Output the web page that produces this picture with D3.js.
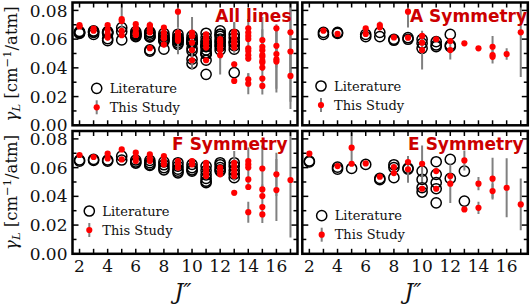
<!DOCTYPE html>
<html><head><meta charset="utf-8">
<script src="https://cdn.jsdelivr.net/npm/d3@7"></script>
<style>html,body{margin:0;padding:0;background:#fff}svg{display:block}</style>
</head><body>
<svg id="c" width="531" height="305"></svg>
<script>
// ---------- DATA ----------
const xTicks = [2,3,4,5,6,7,8,9,10,11,12,13,14,15,16,17];
const xTickLabels = [2,4,6,8,10,12,14,16];
const yTicks = [0,0.01,0.02,0.03,0.04,0.05,0.06,0.07,0.08];
const yTickLabels = [0,0.02,0.04,0.06,0.08];
const panelTitles = ["All lines","A Symmetry","F Symmetry","E Symmetry"];
const legendLabels = ["Literature","This Study"];

// Literature [J, gamma]
const litA = [[3,0.0647],[3,0.0633],[4,0.0647],[4,0.0640],[6,0.0633],[6,0.0617],
 [7,0.0647],[7,0.0617],[8,0.0599],[8,0.0592],[9,0.0610],[9,0.0599],
 [10,0.0599],[10,0.0571],[10,0.0536],[11,0.0582],[11,0.0559],[11,0.0548],
 [12,0.0633],[12,0.0559],[12,0.0548]];
const litF = [[2,0.0653],[2,0.0645],[3,0.0657],[3,0.0650],[4,0.0653],[4,0.0645],
 [5,0.0680],[5,0.0653],[6,0.0653],[6,0.0639],[6,0.0632],
 [7,0.0650],[7,0.0635],[7,0.0622],[7,0.0615],[8,0.0640],[8,0.0620],[8,0.0600],[8,0.0585],
 [9,0.0634],[9,0.0610],[9,0.0590],[9,0.0575],[9,0.0564],
 [10,0.0622],[10,0.0600],[10,0.0585],[10,0.0576],
 [11,0.0611],[11,0.0580],[11,0.0550],[11,0.0525],[11,0.0505],[11,0.0495],
 [12,0.0634],[12,0.0620],[12,0.0600],[12,0.0585],[12,0.0576],
 [13,0.0634],[13,0.0610],[13,0.0580],[13,0.0555],[13,0.0530]];
const litE = [[2,0.0646],[2,0.0640],[4,0.0603],[4,0.0590],[5,0.0594],[6,0.0622],
 [7,0.0525],[7,0.0516],[8,0.0620],[8,0.0600],[8,0.0530],[9,0.0597],[9,0.0590],
 [10,0.0576],[10,0.0518],[10,0.0460],[10,0.0430],
 [11,0.0641],[11,0.0553],[11,0.0495],[11,0.0453],[11,0.0355],
 [12,0.0657],[12,0.0525],[13,0.0576],[13,0.0367]];

// This study [J, gamma, error]
const studyA = [[3,0.0659,0.0015],[4,0.0636,0.0012],[6,0.0675,0.0015],[6,0.0636,0.0012],
 [7,0.0698,0.0025],[7,0.0682,0.0015],[8,0.0612,0.0012],[9,0.0610,0.0012],[9,0.0791,0.0110],
 [10,0.0622,0.0015],[10,0.0575,0.0015],[10,0.0524,0.0135],[11,0.0599,0.0015],
 [12,0.0587,0.0015],[12,0.0524,0.0065],[13,0.0571,0.0012],[14,0.0536,0.0015],
 [15,0.0547,0.0075],[15,0.0489,0.0020],[15,0.0477,0.0046],[16,0.0496,0.0040],[17,0.0647,0.0310]];
const studyF = [[2,0.0688,0.0012],[3,0.0674,0.0012],[4,0.0697,0.0012],[4,0.0664,0.0012],
 [5,0.0727,0.0015],[5,0.0657,0.0012],[6,0.0704,0.0012],[6,0.0669,0.0012],[6,0.0646,0.0012],
 [7,0.0692,0.0012],[7,0.0664,0.0012],[7,0.0646,0.0012],[8,0.0680,0.0012],[8,0.0646,0.0012],[8,0.0622,0.0012],
 [9,0.0646,0.0012],[9,0.0622,0.0012],[9,0.0600,0.0012],[10,0.0646,0.0012],[10,0.0622,0.0015],
 [11,0.0634,0.0012],[11,0.0611,0.0012],[11,0.0588,0.0040],[11,0.0564,0.0012],[11,0.0541,0.0015],
 [12,0.0600,0.0012],[12,0.0576,0.0040],[12,0.0553,0.0012],
 [13,0.0634,0.0012],[13,0.0611,0.0105],[13,0.0588,0.0012],[13,0.0564,0.0012],[13,0.0541,0.0012],[13,0.0425,0.0020],
 [14,0.0646,0.0015],[14,0.0622,0.0015],[14,0.0600,0.0140],[14,0.0518,0.0015],[14,0.0465,0.0020],[14,0.0290,0.0073],
 [15,0.0594,0.0160],[15,0.0448,0.0020],[15,0.0402,0.0080],[15,0.0325,0.0020],[15,0.0274,0.0060],
 [16,0.0553,0.0150],[16,0.0444,0.0216],[17,0.0514,0.0400]];
const studyE = [[2,0.0697,0.0012],[4,0.0611,0.0012],[5,0.0627,0.0015],[5,0.0739,0.0103],
 [6,0.0629,0.0012],[7,0.0537,0.0012],[8,0.0604,0.0015],[8,0.0562,0.0015],
 [9,0.0639,0.0015],[9,0.0588,0.0093],[10,0.0627,0.0127],[10,0.0453,0.0015],
 [11,0.0576,0.0015],[11,0.0453,0.0015],[12,0.0541,0.0015],[12,0.0488,0.0135],
 [13,0.0650,0.0070],[13,0.0309,0.0015],[14,0.0488,0.0046],[14,0.0320,0.0043],
 [15,0.0523,0.0145],[15,0.0437,0.0050],[16,0.0460,0.0205],[17,0.0344,0.0180]];
// points appearing only in the "All lines" panel
const studyAllExtra = [[14,0.0675,0.0015],[16,0.0675,0.0015]];

const litAll = litA.concat(litF, litE);
const studyAll = studyA.concat(studyF, studyE, studyAllExtra);

// ---------- LAYOUT ----------
const svg = d3.select("#c");
const RED = "#ff0000", TITLE_RED = "#cc0000", GRAY = "#808080";
const serif = "'DejaVu Serif', serif";
const panels = [
  {lit:litAll, st:studyAll, title:panelTitles[0], x0:72.5, x1:297.5, y0:2.5, y1:125.3, titleX:291.5, leg:[96.7,88.3], yl:true, xl:false},
  {lit:litA, st:studyA, title:panelTitles[1], x0:302.3, x1:527.8, y0:2.5, y1:125.3, titleX:527, leg:[321,86], yl:false, xl:false},
  {lit:litF, st:studyF, title:panelTitles[2], x0:72.5, x1:297.5, y0:131, y1:253.8, titleX:287.5, leg:[89.3,211], yl:true, xl:true},
  {lit:litE, st:studyE, title:panelTitles[3], x0:302.3, x1:527.8, y0:131, y1:253.8, titleX:523.5, leg:[321.7,215.7], yl:false, xl:true}
];

panels.forEach((p,i) => {
  const x = d3.scaleLinear().domain([1.5,17.5]).range([p.x0,p.x1]);
  const y = d3.scaleLinear().domain([0,0.0855]).range([p.y1,p.y0]);
  const g = svg.append("g");
  const cid = "clip"+i;
  svg.append("clipPath").attr("id",cid).append("rect")
    .attr("x",p.x0).attr("y",p.y0).attr("width",p.x1-p.x0).attr("height",p.y1-p.y0);
  const data = g.append("g").attr("clip-path",`url(#${cid})`);

  // literature circles
  data.selectAll("circle.lit").data(p.lit).join("circle").attr("class","lit")
    .attr("cx",d=>x(d[0])).attr("cy",d=>y(d[1])).attr("r",5.1)
    .attr("fill","none").attr("stroke","#000").attr("stroke-width",1.5);
  // error bars
  data.selectAll("line.err").data(p.st).join("line").attr("class","err")
    .attr("x1",d=>x(d[0])).attr("x2",d=>x(d[0]))
    .attr("y1",d=>y(d[1]-d[2])).attr("y2",d=>y(d[1]+d[2]))
    .attr("stroke",GRAY).attr("stroke-width",2);
  // study points
  data.selectAll("circle.st").data(p.st).join("circle").attr("class","st")
    .attr("cx",d=>x(d[0])).attr("cy",d=>y(d[1])).attr("r",3.1).attr("fill",RED);

  // ticks (inward, all sides)
  const tk = g.append("g").attr("stroke","#000").attr("stroke-width",1.5);
  xTicks.forEach(t => {
    tk.append("line").attr("x1",x(t)).attr("x2",x(t)).attr("y1",p.y1).attr("y2",p.y1-5);
    tk.append("line").attr("x1",x(t)).attr("x2",x(t)).attr("y1",p.y0).attr("y2",p.y0+5);
  });
  yTicks.forEach(t => {
    const L = (Math.round(t*100)%2===0) ? 6 : 4;
    tk.append("line").attr("x1",p.x0).attr("x2",p.x0+L).attr("y1",y(t)).attr("y2",y(t));
    tk.append("line").attr("x1",p.x1).attr("x2",p.x1-L).attr("y1",y(t)).attr("y2",y(t));
  });

  // frame
  g.append("rect").attr("x",p.x0).attr("y",p.y0).attr("width",p.x1-p.x0).attr("height",p.y1-p.y0)
    .attr("fill","none").attr("stroke","#000").attr("stroke-width",2.5);

  // tick labels
  if (p.yl) {
    g.selectAll("text.yt").data(yTickLabels).join("text").attr("class","yt")
      .attr("x",p.x0-5).attr("y",d=>y(d)).attr("dy","0.36em").attr("text-anchor","end")
      .attr("font-family",serif).attr("font-size",17).attr("fill","#111")
      .text(d=>d.toFixed(2));
    const cy = (p.y0+p.y1)/2;
    const yl = g.append("text").attr("transform",`translate(16.5,${cy}) rotate(-90)`)
      .attr("text-anchor","middle").attr("font-family",serif).attr("font-size",16.5).attr("fill","#111");
    yl.append("tspan").attr("font-style","italic").text("γ");
    yl.append("tspan").attr("font-style","italic").attr("font-size",11.5).attr("dy",3).text("L");
    yl.append("tspan").attr("dy",-3).text(" [cm");
    yl.append("tspan").attr("font-size",11.5).attr("dy",-6).text("−1");
    yl.append("tspan").attr("dy",6).text("/atm]");
  }
  if (p.xl) {
    g.selectAll("text.xt").data(xTickLabels).join("text").attr("class","xt")
      .attr("x",d=>x(d)).attr("y",p.y1+18).attr("text-anchor","middle")
      .attr("font-family",serif).attr("font-size",17).attr("fill","#111").text(d=>d);
    const xl = g.append("text").attr("x",(p.x0+p.x1)/2 - 2).attr("y",299)
      .attr("text-anchor","middle").attr("font-family",serif).attr("font-size",22).attr("fill","#111");
    xl.append("tspan").attr("font-style","italic").text("J");
    xl.append("tspan").attr("font-style","italic").text("″");
  }

  // title
  g.append("text").attr("x",p.titleX).attr("y",p.y0+19).attr("text-anchor","end")
    .attr("font-family","'DejaVu Sans', sans-serif").attr("font-weight","bold")
    .attr("font-size",17).attr("fill",TITLE_RED).text(p.title);

  // legend
  const [lx,ly] = p.leg;
  g.append("circle").attr("cx",lx).attr("cy",ly).attr("r",5.1)
    .attr("fill","none").attr("stroke","#000").attr("stroke-width",1.5);
  g.append("text").attr("x",lx+13).attr("y",ly+4.5).attr("font-family",serif)
    .attr("font-size",13).attr("fill","#111").text(legendLabels[0]);
  g.append("line").attr("x1",lx).attr("x2",lx).attr("y1",ly+12).attr("y2",ly+26)
    .attr("stroke",GRAY).attr("stroke-width",2);
  g.append("circle").attr("cx",lx).attr("cy",ly+19).attr("r",3.1).attr("fill",RED);
  g.append("text").attr("x",lx+13).attr("y",ly+23.5).attr("font-family",serif)
    .attr("font-size",13).attr("fill","#111").text(legendLabels[1]);
});
</script>
</body></html>
